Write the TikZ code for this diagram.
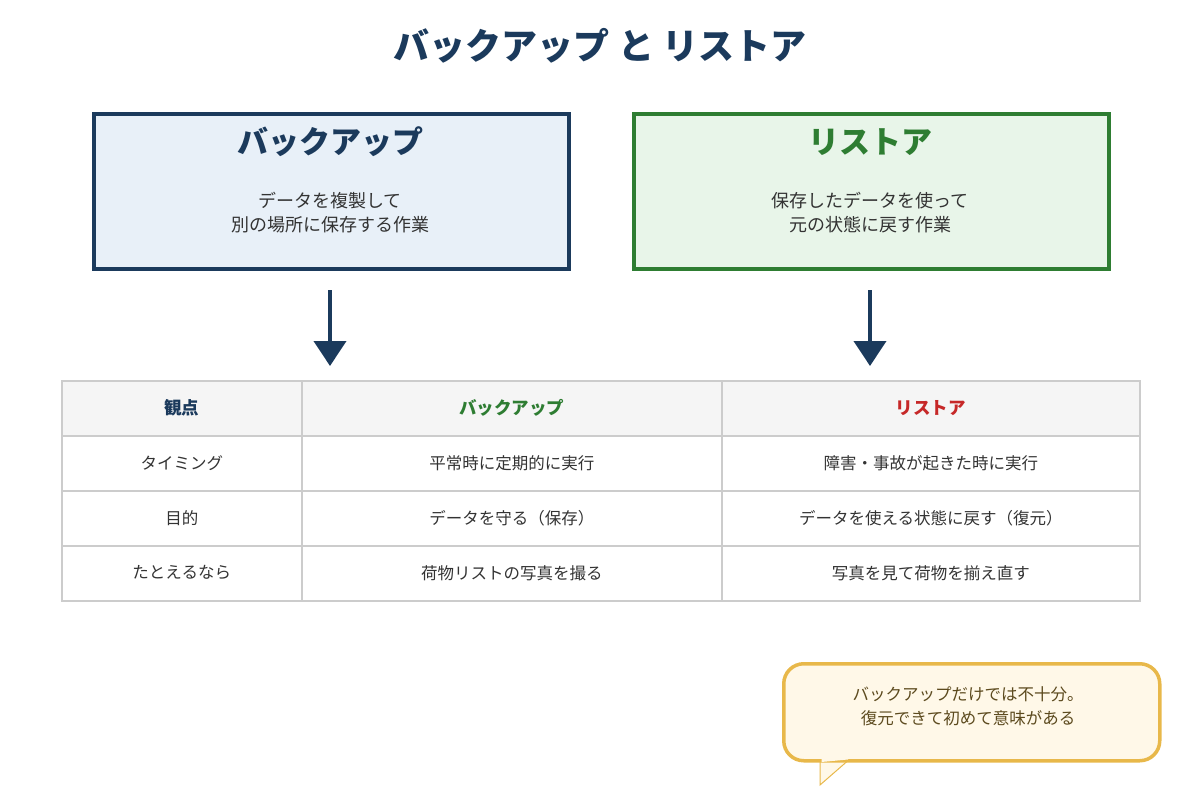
\documentclass[tikz,border=0pt]{standalone}
\usepackage{fontspec}
\setmainfont{Noto Sans CJK JP}
\usetikzlibrary{arrows.meta}
\definecolor{navy}{HTML}{1B3A5C}
\definecolor{grn}{HTML}{2E7D32}
\definecolor{redc}{HTML}{C62828}
\definecolor{txt}{HTML}{333333}
\definecolor{gold}{HTML}{E8B84A}
\definecolor{cream}{HTML}{FFF8E8}
\definecolor{brn}{HTML}{5C4A1E}
\definecolor{lblue}{HTML}{E8F0F8}
\definecolor{lgreen}{HTML}{E8F5E9}
\begin{document}
\begin{tikzpicture}[x=1pt,y=-1pt,
  box/.style={draw,line width=4pt,minimum width=475pt,minimum height=155pt,anchor=north west},
  cell/.style={draw=black!20,line width=1.5pt,anchor=north west,minimum height=55pt,inner sep=0pt,font=\fontsize{16.5}{19}\selectfont,text=txt},
  arr/.style={navy,line width=4pt,-{Triangle[length=25pt,width=32pt]}}]
\useasboundingbox (0,0) rectangle (1200,800);
\node[font=\fontsize{36}{42}\selectfont\bfseries,text=navy] (title) at (600,46) {バックアップ と リストア};
\node[box,draw=navy,fill=lblue] (b1) at (92,112) {};
\node[font=\fontsize{31}{36}\selectfont\bfseries,text=navy] (b1t) at (330,142) {バックアップ};
\node[align=center,font=\fontsize{18}{24}\selectfont,text=txt] (b1d) at (330,213) {データを複製して\\別の場所に保存する作業};
\node[box,draw=grn,fill=lgreen] (b2) at (632,112) {};
\node[font=\fontsize{31}{36}\selectfont\bfseries,text=grn] (b2t) at (870,142) {リストア};
\node[align=center,font=\fontsize{18}{24}\selectfont,text=txt] (b2d) at (870,213) {保存したデータを使って\\元の状態に戻す作業};
\coordinate (a1s) at (330,290); \coordinate (a1e) at (330,366);
\coordinate (a2s) at (870,290); \coordinate (a2e) at (870,366);
\draw[arr] (a1s) -- (a1e);
\draw[arr] (a2s) -- (a2e);
% table
\node[cell,fill=black!4,minimum width=240pt,font=\fontsize{17.5}{20}\selectfont\bfseries,text=navy] (h1) at (61,380) {観点};
\node[cell,fill=black!4,minimum width=420pt,font=\fontsize{17.5}{20}\selectfont\bfseries,text=grn] (h2) at (301,380) {バックアップ};
\node[cell,fill=black!4,minimum width=418pt,font=\fontsize{17.5}{20}\selectfont\bfseries,text=redc] (h3) at (721,380) {リストア};
\foreach \y/\a/\b/\c [count=\i] in {435/タイミング/平常時に定期的に実行/障害・事故が起きた時に実行,
  490/目的/データを守る（保存）/データを使える状態に戻す（復元）,
  545/たとえるなら/荷物リストの写真を撮る/写真を見て荷物を揃え直す}{
  \node[cell,minimum width=240pt] (r\i a) at (61,\y) {\raisebox{2pt}{\a}};
  \node[cell,minimum width=420pt] (r\i b) at (301,\y) {\raisebox{2pt}{\b}};
  \node[cell,minimum width=418pt] (r\i c) at (721,\y) {\raisebox{2pt}{\c}};
}
% callout
\draw[gold,line width=1pt,fill=cream] (820,755) -- (820,785) -- (851,758);
\node[draw=gold,fill=cream,line width=3.5pt,rounded corners=20pt,minimum width=376pt,minimum height=97pt,anchor=north west] (call) at (782,662) {};
\fill[cream] (821.5,756) -- (821.5,762) -- (848,759.5) -- (848,756) -- cycle;
\node[align=center,font=\fontsize{16.5}{24}\selectfont,text=brn] (callt) at (968,706) {バックアップだけでは不十分。\\復元できて初めて意味がある};
\end{tikzpicture}
\end{document}
